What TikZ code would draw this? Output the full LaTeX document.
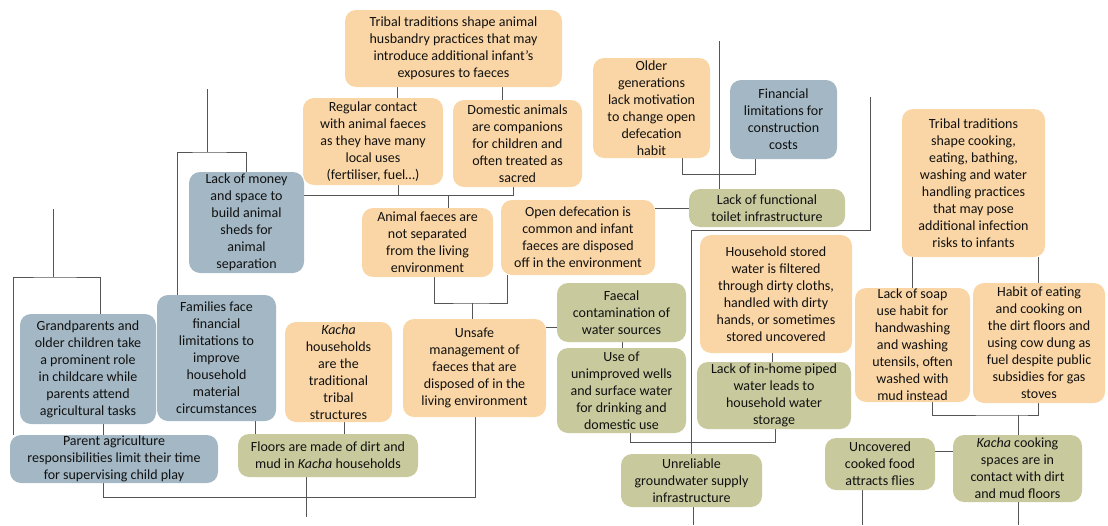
\documentclass[tikz,border=0pt]{standalone}
\usepackage{fontspec}
\setmainfont{Carlito}
\usetikzlibrary{backgrounds}
\definecolor{boxorange}{HTML}{FAD6A6}
\definecolor{boxblue}{HTML}{A3B7C4}
\definecolor{boxgreen}{HTML}{C8CA9E}
\definecolor{linegray}{HTML}{555555}
\definecolor{textgray}{HTML}{111111}
\tikzset{
  box/.style={rectangle, rounded corners=11pt, align=center, inner sep=0pt,
    font=\fontsize{14}{17}\selectfont, text=textgray},
  ob/.style={box, fill=boxorange},
  bb/.style={box, fill=boxblue},
  gb/.style={box, fill=boxgreen},
  link/.style={draw=linegray, line width=1pt}
}
\begin{document}
\begin{tikzpicture}[x=1pt, y=-1pt]
\useasboundingbox (0,0) rectangle (1108,525);

% ---- boxes ----
\node[ob, minimum width=217pt, minimum height=77pt] (husb) at (453.5,48.5)
  {Tribal traditions shape animal\\husbandry practices that may\\introduce additional infant’s\\exposures to faeces};
\node[ob, minimum width=140pt, minimum height=87pt] (regular) at (373,141.5)
  {Regular contact\\with animal faeces\\as they have many\\local uses\\(fertiliser, fuel…)};
\node[ob, minimum width=129pt, minimum height=87pt] (domestic) at (517.5,143.5)
  {Domestic animals\\are companions\\for children and\\often treated as\\sacred};
\node[ob, minimum width=117pt, minimum height=100pt] (older) at (651.5,108)
  {Older\\generations\\lack motivation\\to change open\\defecation\\habit};
\node[bb, minimum width=107pt, minimum height=79pt] (fincon) at (783.5,119.5)
  {Financial\\limitations for\\construction\\costs};
\node[gb, minimum width=156pt, minimum height=38pt] (toilet) at (767,208)
  {Lack of functional\\toilet infrastructure};
\node[ob, minimum width=143pt, minimum height=148pt] (cooktrad) at (973.5,183)
  {Tribal traditions\\shape cooking,\\eating, bathing,\\washing and water\\handling practices\\that may pose\\additional infection\\risks to infants};
\node[bb, minimum width=115pt, minimum height=101pt] (money) at (246.5,222.5)
  {Lack of money\\and space to\\build animal\\sheds for\\animal\\separation};
\node[ob, minimum width=131pt, minimum height=69pt] (animalfaeces) at (427.5,242.5)
  {Animal faeces are\\not separated\\from the living\\environment};
\node[ob, minimum width=154pt, minimum height=75pt] (opendef) at (578,237.5)
  {Open defecation is\\common and infant\\faeces are disposed\\off in the environment};
\node[ob, minimum width=152pt, minimum height=118pt] (stored) at (776,294)
  {Household stored\\water is filtered\\through dirty cloths,\\handled with dirty\\hands, or sometimes\\stored uncovered};
\node[gb, minimum width=154pt, minimum height=67pt] (piped) at (774,395.5)
  {Lack of in-home piped\\water leads to\\household water\\storage};
\node[gb, minimum width=129pt, minimum height=59pt] (faecalcont) at (621.5,312.5)
  {Faecal\\contamination of\\water sources};
\node[gb, minimum width=129pt, minimum height=85pt] (wells) at (621.5,390.5)
  {Use of\\unimproved wells\\and surface water\\for drinking and\\domestic use};
\node[ob, minimum width=143pt, minimum height=98pt] (unsafe) at (474.5,368)
  {Unsafe\\management of\\faeces that are\\disposed of in the\\living environment};
\node[ob, minimum width=107pt, minimum height=100pt] (kachahh) at (338.5,372)
  {\textit{Kacha}\\households\\are the\\traditional\\tribal\\structures};
\node[bb, minimum width=136pt, minimum height=110pt] (grand) at (88,369)
  {Grandparents and\\older children take\\a prominent role\\in childcare while\\parents attend\\agricultural tasks};
\node[bb, minimum width=119pt, minimum height=126pt] (families) at (216.5,358)
  {Families face\\financial\\limitations to\\improve\\household\\material\\circumstances};
\node[bb, minimum width=208pt, minimum height=48pt] (parent) at (114,459)
  {Parent agriculture\\responsibilities limit their time\\for supervising child play};
\node[gb, minimum width=180pt, minimum height=43pt] (floors) at (328,455.5)
  {Floors are made of dirt and\\mud in \textit{Kacha} households};
\node[gb, minimum width=141pt, minimum height=53pt] (groundwater) at (691.5,480.5)
  {Unreliable\\groundwater supply\\infrastructure};
\node[ob, minimum width=115pt, minimum height=114pt] (soap) at (912.5,345)
  {Lack of soap\\use habit for\\handwashing\\and washing\\utensils, often\\washed with\\mud instead};
\node[ob, minimum width=132pt, minimum height=120pt] (habit) at (1039,343)
  {Habit of eating\\and cooking on\\the dirt floors and\\using cow dung as\\fuel despite public\\subsidies for gas\\stoves};
\node[gb, minimum width=110pt, minimum height=52pt] (uncovered) at (880,464)
  {Uncovered\\cooked food\\attracts flies};
\node[gb, minimum width=129pt, minimum height=67pt] (kachacook) at (1017.5,468.5)
  {\textit{Kacha} cooking\\spaces are in\\contact with dirt\\and mud floors};

% ---- junctions and free ends ----
\coordinate (j1) at (448,195);
\coordinate (t1) at (207,89);
\coordinate (j2) at (207,152);
\coordinate (t2) at (53,209);
\coordinate (j3) at (53,277);
\coordinate (j4) at (475,497);
\coordinate (b1) at (306,517);
\coordinate (j5) at (472,303);
\coordinate (j6) at (775,442);
\coordinate (t3) at (870,97);
\coordinate (j7) at (870,230);
\coordinate (b2) at (693,525);
\coordinate (t4) at (719,41);
\coordinate (j8) at (755,174);
\coordinate (j9) at (1018,415);
\coordinate (b3) at (862,525);
\coordinate (b4) at (1018,525);

% ---- connectors ----
\begin{pgfonlayer}{background}
\draw[link] (husb.south -| 397,0) -- (regular.north -| 397,0);
\draw[link] (husb.south -| 502,0) -- (domestic.north -| 502,0);
\draw[link] (money.east |- j1) -| (domestic.south -| 513,0);
\draw[link] (regular.south -| 398,0) -- (j1 -| 398,0);
\draw[link] (j1) -- (animalfaeces.north -| j1);
\draw[link] (t1) -- (j2);
\draw[link] (families.north -| 177,0) |- (j2) -| (money.north -| 246,0);
\draw[link] (t2) -- (j3);
\draw[link] (parent.north -| 13,0) |- (j3) -| (grand.north -| 100,0);
\draw[link] (grand.south -| 103,0) -- (parent.north -| 103,0);
\draw[link] (families.south -| 255,0) -- (floors.north -| 255,0);
\draw[link] (kachahh.south -| 344,0) -- (floors.north -| 344,0);
\draw[link] (parent.south -| 103,0) |- (j4) -- (unsafe.south -| j4);
\draw[link] (floors.south -| b1) -- (b1);
\draw[link] (animalfaeces.south -| 434,0) |- (j5) -| (opendef.south -| 507,0);
\draw[link] (j5) -- (unsafe.north -| j5);
\draw[link] (unsafe.east |- 0,327) -- (faecalcont.west |- 0,327);
\draw[link] (faecalcont.south -| 622,0) -- (wells.north -| 622,0);
\draw[link] (wells.south -| 630,0) |- (j6) -- (piped.south -| j6);
\draw[link] (stored.south -| 772,0) -- (piped.north -| 772,0);
\draw[link] (t3) -- (j7) -| (groundwater.north -| 691,0);
\draw[link] (groundwater.south -| b2) -- (b2);
\draw[link] (opendef.east |- 0,208) -- (toilet.west |- 0,208);
\draw[link] (t4) -- (toilet.north -| t4);
\draw[link] (older.south -| 682,0) |- (j8) -- (fincon.south -| j8);
\draw[link] (cooktrad.south -| 912,0) -- (soap.north -| 912,0);
\draw[link] (cooktrad.south -| 1038,0) -- (habit.north -| 1038,0);
\draw[link] (soap.south -| 932,0) |- (j9) -| (habit.south -| 1038,0);
\draw[link] (j9) -- (kachacook.north -| j9);
\draw[link] (uncovered.east |- 0,451) -- (kachacook.west |- 0,451);
\draw[link] (uncovered.south -| b3) -- (b3);
\draw[link] (kachacook.south -| b4) -- (b4);
\end{pgfonlayer}
\end{tikzpicture}
\end{document}
